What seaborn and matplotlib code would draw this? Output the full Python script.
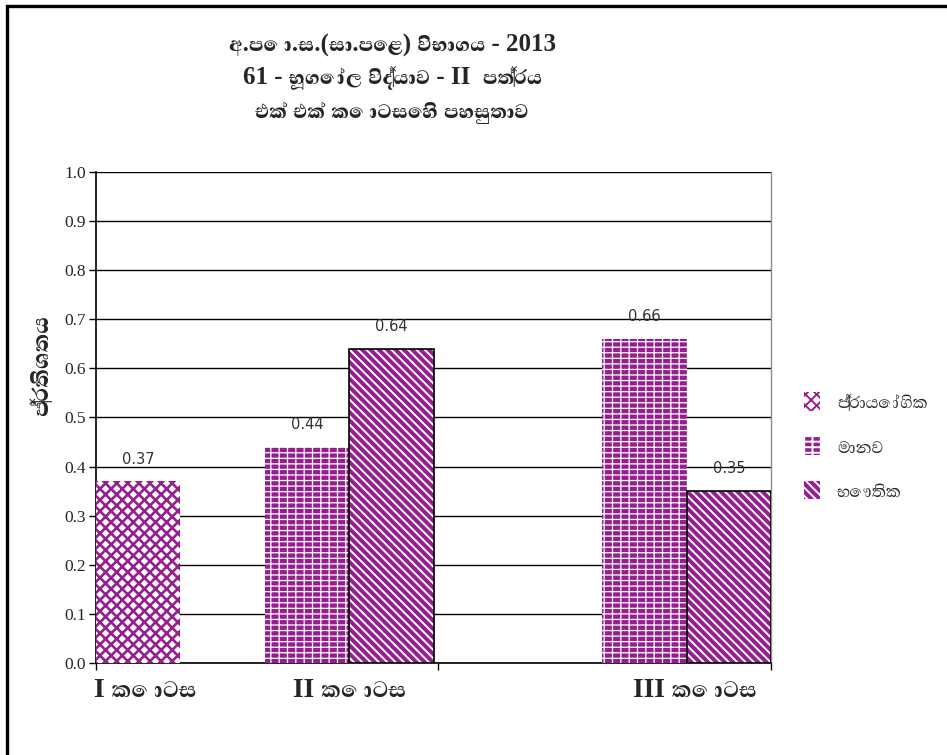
import matplotlib
matplotlib.use("Agg")
import matplotlib.pyplot as plt
import matplotlib.patches as mpatches
import matplotlib.transforms as mtransforms
from matplotlib import font_manager as fm
from matplotlib.ft2font import FT2Font
import numpy as np
import pandas as pd
import seaborn as sns

# ---- data -------------------------------------------------------------
parts = ["I කොටස", "II කොටස", "III කොටස"]
series = ["ප්‍රායෝගික", "මානව", "භෞතික"]
prayogika = [0.37, np.nan, np.nan]
manava = [np.nan, 0.44, 0.66]
bhouthika = [np.nan, 0.64, 0.35]

title_lines = [
    "අ.පො.ස.(සා.පෙළ) විභාගය - 2013",
    "61 - භූගෝල විද්‍යාව - II  පත්‍රය",
    "එක් එක් කොටසෙහි පහසුතාව",
]
y_label = "ප්‍රතිශතය"
y_ticks = [0.0, 0.1, 0.2, 0.3, 0.4, 0.5, 0.6, 0.7, 0.8, 0.9, 1.0]

# ---- layout: slot where each part starts, and series offset inside it ---
group_start = [0, 2, 6]
series_offset = {"ප්‍රායෝගික": 0, "මානව": 0, "භෞතික": 1}
label_x = [0.09, 2.51, 6.6]


# ---- fonts: pick families that cover Sinhala ----------------------------
HAVE = {f.name for f in fm.fontManager.ttflist}


def sinhala_families(preferred):
    out = [n for n in preferred if n in HAVE]
    if not out:
        for f in fm.fontManager.ttflist:
            try:
                if 0x0D9A in FT2Font(f.fname).get_charmap():
                    out.append(f.name)
                    break
            except Exception:
                continue
    return out


SIN = sinhala_families(["Abhaya Libre", "Noto Serif Sinhala", "Noto Sans Sinhala",
                        "Yaldevi", "Yaldevi Colombo"])
SIN_BOLD = sinhala_families(["Abhaya Libre ExtraBold", "Abhaya Libre Bold",
                             "Noto Serif Sinhala", "Abhaya Libre"])
SERIF = ["Liberation Serif"] + SIN + ["DejaVu Sans"]
SERIF_BOLD = ["Liberation Serif"] + SIN_BOLD + SIN + ["DejaVu Sans"]

rows = []
for name, vals in zip(series, [prayogika, manava, bhouthika]):
    for g, v in enumerate(vals):
        if not np.isnan(v):
            rows.append({"pos": group_start[g] + series_offset[name],
                         "value": v, "series": name})
df = pd.DataFrame(rows)

PURPLE = "#951f8f"
style = {
    "ප්‍රායෝගික": dict(face="white", hatch="xxx", hcolor=PURPLE, hlw=1.9, outline=None),
    "මානව": dict(face=PURPLE, hatch="---||", hcolor="white", hlw=0.9, outline=None),
    "භෞතික": dict(face=PURPLE, hatch="\\" * 4, hcolor="white", hlw=1.4, outline="black"),
}

sns.set_style("white")
plt.rcParams["font.family"] = ["DejaVu Sans"]
plt.rcParams["hatch.linewidth"] = 1.4

fig = plt.figure(figsize=(9.47, 7.55), dpi=100)
ax = fig.add_axes([96 / 947, 1 - 663 / 755, (771 - 96) / 947, (663 - 172) / 755])

sns.barplot(data=df, x="pos", y="value", hue="series", hue_order=series,
            native_scale=True, dodge=False, width=1.0, palette=[PURPLE] * 3,
            saturation=1, legend=False, ax=ax, zorder=3)


def apply_style(p, st):
    p.set_facecolor(st["face"])
    p.set_edgecolor(st["hcolor"])
    p.set_hatch(st["hatch"])
    p.set_linewidth(0)
    try:
        p.set_hatch_linewidth(st["hlw"])
    except AttributeError:
        pass


for name, cont in zip(series, ax.containers):
    st = style[name]
    for p in cont:
        apply_style(p, st)
        if st["outline"]:
            ax.add_patch(mpatches.Rectangle(p.get_xy(), p.get_width(), p.get_height(),
                                            fill=False, edgecolor=st["outline"],
                                            linewidth=1.2, zorder=4))
        ax.annotate(f"{p.get_height():.2f}",
                    (p.get_x() + p.get_width() / 2, p.get_height()),
                    xytext=(0, 16), textcoords="offset points",
                    ha="center", va="center", fontsize=10.5, color="#333333")

ax.set_xlim(-0.5, 7.5)
ax.set_ylim(0, 1.0)
ax.set_yticks(y_ticks)
ax.set_yticklabels([f"{t:.1f}" for t in y_ticks],
                   fontfamily=["Liberation Serif"], fontsize=12.5)
ax.set_xticks([-0.5, 3.55, 7.5])
ax.set_xticklabels([])
ax.tick_params(axis="both", direction="out", length=5, width=1, color="black",
               left=True, bottom=True, pad=2)
ax.yaxis.grid(True, color="black", linewidth=1, zorder=0)
ax.set_axisbelow(True)
ax.set_xlabel("")
ax.set_ylabel("")
for s in ["left", "bottom"]:
    ax.spines[s].set_color("black")
    ax.spines[s].set_linewidth(1.2)
ax.spines["right"].set_color("#8c8c8c")
ax.spines["right"].set_linewidth(1)
ax.spines["top"].set_visible(False)

# category captions below the axis
trans = mtransforms.blended_transform_factory(ax.transData, fig.transFigure)
for x, lab in zip(label_x, parts):
    ax.text(x, 1 - 690 / 755, lab, transform=trans, ha="center", va="center",
            fontsize=20, fontweight="bold", fontfamily=SERIF, clip_on=False)

# title
for i, line in enumerate(title_lines):
    fig.text(392 / 947, 1 - (45 + 33.5 * i) / 755, line, ha="center", va="center",
             fontsize=18, fontweight="bold", fontfamily=SERIF_BOLD)

fig.text(42 / 947, 1 - 365 / 755, y_label, rotation=90, ha="center", va="center",
         fontsize=20, fontweight="bold", fontfamily=SERIF_BOLD)

# legend
handles = []
for name in series:
    st = style[name]
    h = mpatches.Patch(facecolor=st["face"], edgecolor=st["hcolor"], hatch=st["hatch"],
                       linewidth=0, label=name)
    handles.append(h)
leg = fig.legend(handles=handles, loc="center left",
                 bbox_to_anchor=(785 / 947, 1 - 447 / 755), frameon=False,
                 prop=fm.FontProperties(family=SERIF, size=15),
                 handlelength=0.8, handleheight=1.0,
                 labelspacing=1.1, handletextpad=0.8)

# outer frame
fig.patches.append(mpatches.Rectangle((7 / 947, -0.05), 1.2, 1 - 6 / 755 + 0.05,
                                      transform=fig.transFigure, fill=False,
                                      edgecolor="black", linewidth=2.4))

fig.savefig("out.png", dpi=100)
